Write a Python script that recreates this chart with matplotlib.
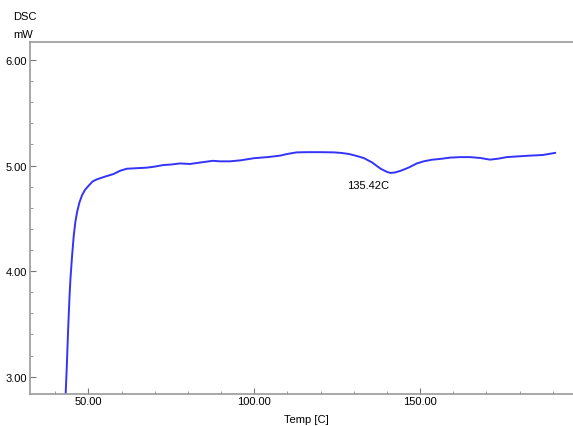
import matplotlib
matplotlib.use("Agg")
import matplotlib.pyplot as plt
from matplotlib.ticker import MultipleLocator, FormatStrFormatter

temp = [43.1, 43.5, 43.9, 44.3, 44.6, 45.1, 45.6, 46.1, 46.6, 47.3, 48.1, 49.0,
        50.1, 51.3, 52.6, 55.0, 57.6, 59.5, 61.6, 64.5, 67.6, 70.0, 72.6, 75.0,
        77.6, 80.6, 84.0, 87.5, 89.7, 92.7, 96.0, 100.0, 104.0, 107.8, 110.0,
        112.8, 116.0, 120.0, 124.0, 126.1, 128.5, 131.0, 133.1, 135.5, 138.1,
        140.0, 141.1, 142.5, 144.1, 146.5, 149.0, 151.1, 153.5, 156.1, 159.0,
        162.1, 165.0, 168.1, 171.1, 173.5, 176.1, 179.5, 183.1, 187.0, 190.7]
dsc = [2.80, 3.10, 3.45, 3.75, 3.93, 4.15, 4.34, 4.47, 4.56, 4.65, 4.72, 4.77,
       4.81, 4.85, 4.87, 4.895, 4.92, 4.95, 4.97, 4.975, 4.98, 4.99, 5.005, 5.01,
       5.02, 5.015, 5.03, 5.045, 5.04, 5.04, 5.05, 5.07, 5.08, 5.094, 5.11,
       5.125, 5.127, 5.127, 5.125, 5.12, 5.11, 5.09, 5.07, 5.03, 4.97,
       4.94, 4.93, 4.935, 4.95, 4.98, 5.02, 5.04, 5.055, 5.063, 5.075,
       5.08, 5.08, 5.072, 5.056, 5.065, 5.08, 5.087, 5.094, 5.10, 5.12]

peak_label = "135.42C"
peak_label_pos = (127.9, 4.815)
x_label = "Temp [C]"
y_label_lines = ["DSC", "mW"]

plt.rcParams['font.family'] = ['Liberation Sans Narrow', 'Liberation Sans', 'DejaVu Sans']

fig = plt.figure(figsize=(5.73, 4.27), dpi=100)
ax = fig.add_axes([30 / 573, 1 - 394.5 / 427, 1 - 30 / 573, (394.5 - 43.3) / 427])

ax.plot(temp, dsc, color='#3434f8', lw=1.4)

ax.set_xlim(32.4, 196.1)
ax.set_ylim(2.84, 6.168)

ax.xaxis.set_major_locator(MultipleLocator(50))
ax.xaxis.set_minor_locator(MultipleLocator(10))
ax.yaxis.set_major_locator(MultipleLocator(1))
ax.yaxis.set_minor_locator(MultipleLocator(0.2))
ax.xaxis.set_major_formatter(FormatStrFormatter('%.2f'))
ax.yaxis.set_major_formatter(FormatStrFormatter('%.2f'))

grey = '#999999'
for s in ['left', 'bottom', 'top']:
    ax.spines[s].set_color(grey)
    ax.spines[s].set_linewidth(1.2)
ax.spines['right'].set_visible(False)

ax.tick_params(which='major', direction='in', length=4, width=0.8, color='#777777',
               labelsize=8, pad=2)
ax.tick_params(which='minor', direction='in', length=2, width=0.6, color='#888888')
ax.tick_params(axis='y', which='both', right=False)
ax.tick_params(axis='x', which='both', top=False)

ax.text(peak_label_pos[0], peak_label_pos[1], peak_label, fontsize=8,
        ha='left', va='center', color='black')

fig.text(306 / 573, 1 - 420 / 427, x_label, ha='center', va='center', fontsize=8)
fig.text(13 / 573, 1 - 17 / 427, y_label_lines[0], ha='left', va='center', fontsize=8)
fig.text(13 / 573, 1 - 35 / 427, y_label_lines[1], ha='left', va='center', fontsize=8)

fig.savefig('out.png', dpi=100)
